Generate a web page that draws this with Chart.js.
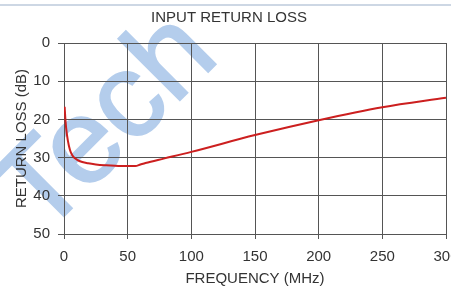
<!DOCTYPE html>
<html>
<head>
<meta charset="utf-8">
<script src="https://cdn.jsdelivr.net/npm/chart.js@4"></script>
<style>
  html, body { margin: 0; padding: 0; background: #fff; overflow: hidden; }
  #wrap { width: 451px; height: 288px; }
</style>
</head>
<body>
<div id="wrap"><canvas id="chart" width="451" height="288"></canvas></div>
<script>
// frequency (MHz) and return loss (dB)
const freqs = [0.5, 1, 1.6, 3, 4.7, 6.5, 8.6, 12, 19, 25, 32, 45, 56, 60, 64, 79, 100, 150, 200, 250, 300];
const returnLoss = [16.7, 19.5, 22, 25.5, 28, 29.4, 30.2, 30.9, 31.5, 31.8, 32.0, 32.2, 32.2, 31.8, 31.4, 30.2, 28.5, 24.1, 20.2, 16.8, 14.3];
const xTicks = [0, 50, 100, 150, 200, 250, 300];
const yTicks = [0, 10, 20, 30, 40, 50];

const font = 'Liberation Sans, Arial, sans-serif';
const textColor = '#333';
const gridColor = '#555';

// background, watermark and the thin rule at the top
const backdrop = {
  id: 'backdrop',
  beforeDraw(chart) {
    const ctx = chart.ctx;
    ctx.save();
    ctx.fillStyle = '#fff';
    ctx.fillRect(0, 0, chart.width, chart.height);
    ctx.fillStyle = '#cdd7e4';
    ctx.fillRect(0, 4, chart.width, 2);
    ctx.translate(42, 238);
    ctx.rotate(-45 * Math.PI / 180);
    ctx.font = '120px ' + font;
    ctx.fillStyle = '#b4cdec';
    ctx.strokeStyle = '#b4cdec';
    ctx.lineWidth = 2;
    ctx.fillText('Tech', 0, 0);
    ctx.strokeText('Tech', 0, 0);
    ctx.restore();
  }
};

const points = freqs.map((f, i) => ({ x: f, y: returnLoss[i] }));

new Chart(document.getElementById('chart'), {
  type: 'line',
  data: {
    datasets: [{
      data: points,
      borderColor: '#cc1f1f',
      borderWidth: 2,
      pointRadius: 0,
      cubicInterpolationMode: 'monotone',
      fill: false
    }]
  },
  options: {
    responsive: false,
    animation: false,
    layout: { padding: { left: 12, right: 5, top: 0, bottom: 0 } },
    plugins: {
      legend: { display: false },
      tooltip: { enabled: false },
      title: {
        display: true,
        text: 'INPUT RETURN LOSS',
        color: textColor,
        font: { family: font, size: 15, weight: 'normal' },
        padding: { top: 9, bottom: 16 }
      }
    },
    scales: {
      x: {
        type: 'linear',
        min: 0,
        max: 300,
        afterBuildTicks(scale) { scale.ticks = xTicks.map(v => ({ value: v })); },
        afterFit(scale) { scale.height = 54; scale.paddingRight = 0; scale.paddingLeft = 0; },
        grid: { color: gridColor, lineWidth: 1, tickLength: 5, tickColor: gridColor },
        border: { color: gridColor },
        ticks: { color: textColor, font: { family: font, size: 15 }, padding: 9, maxRotation: 0 },
        title: {
          display: true,
          text: 'FREQUENCY (MHz)',
          color: textColor,
          font: { family: font, size: 15 },
          padding: { top: 0, bottom: 0 }
        }
      },
      y: {
        type: 'linear',
        reverse: true,
        min: 0,
        max: 50,
        afterBuildTicks(scale) { scale.ticks = yTicks.map(v => ({ value: v })); },
        afterFit(scale) { scale.width = 52; },
        grid: { color: gridColor, lineWidth: 1, tickLength: 6, tickColor: gridColor },
        border: { color: gridColor },
        ticks: { color: textColor, font: { family: font, size: 15 }, padding: 8 },
        title: {
          display: true,
          text: 'RETURN LOSS (dB)',
          color: textColor,
          font: { family: font, size: 15 },
          padding: { top: 1, bottom: 0 }
        }
      }
    }
  },
  plugins: [backdrop]
});
</script>
</body>
</html>
